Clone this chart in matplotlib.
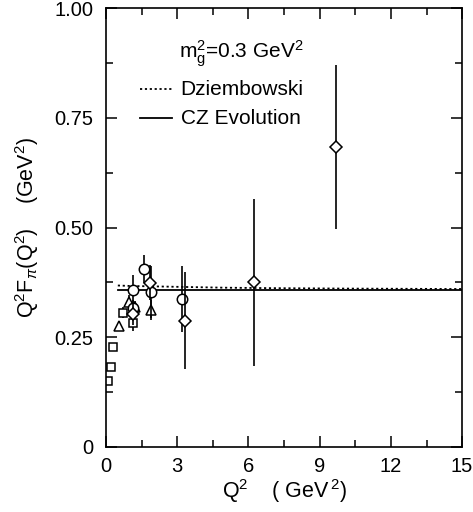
import matplotlib
matplotlib.use("Agg")
import matplotlib.pyplot as plt
from matplotlib.ticker import MultipleLocator

plt.rcParams['font.family'] = ['Liberation Sans', 'DejaVu Sans']
plt.rcParams['mathtext.fontset'] = 'custom'
plt.rcParams['mathtext.rm'] = 'Liberation Sans'
plt.rcParams['mathtext.it'] = 'Liberation Sans:italic'
plt.rcParams['mathtext.sf'] = 'Liberation Sans'

# data points (Q^2, Q^2 F_pi, error)
sq_x = [0.08, 0.20, 0.28, 0.70, 1.12]
sq_y = [0.150, 0.183, 0.228, 0.306, 0.283]
sq_e = [0.008, 0.008, 0.010, 0.012, 0.018]

tri_x = [0.55, 0.98, 1.24, 1.90]
tri_y = [0.276, 0.331, 0.318, 0.312]
tri_e = [0.010, 0.015, 0.015, 0.022]

cir_x = [1.12, 1.12, 1.60, 1.88, 3.22]
cir_y = [0.357, 0.316, 0.405, 0.353, 0.337]
cir_e = [0.035, 0.020, 0.032, 0.060, 0.075]

dia_x = [1.12, 1.85, 3.32, 6.24, 9.69]
dia_y = [0.304, 0.374, 0.288, 0.375, 0.684]
dia_e = [0.025, 0.040, 0.110, 0.190, 0.187]

# theory curves
th_x = [0.5, 1.0, 2.0, 3.0, 5.0, 7.0, 10.0, 15.0]
dz_y = [0.368, 0.367, 0.366, 0.365, 0.363, 0.362, 0.361, 0.360]
cz_y = [0.358, 0.358, 0.358, 0.358, 0.358, 0.358, 0.358, 0.358]

fig = plt.figure(figsize=(4.73, 5.12), dpi=100)
ax = fig.add_axes([0.224, 0.127, 0.753, 0.857])

ax.plot(th_x, dz_y, color='black', linestyle=(0, (1.2, 1.5)), linewidth=1.3)
ax.plot(th_x, cz_y, color='black', linestyle='-', linewidth=1.3)

mk = dict(fmt='none', ecolor='black', elinewidth=1.2, capsize=0)
for xs, ys, es, m, ms in [(sq_x, sq_y, sq_e, 's', 6),
                          (tri_x, tri_y, tri_e, '^', 7),
                          (cir_x, cir_y, cir_e, 'o', 7.5),
                          (dia_x, dia_y, dia_e, 'D', 6)]:
    ax.errorbar(xs, ys, yerr=es, **mk)
    ax.plot(xs, ys, linestyle='none', marker=m, markersize=ms,
            markerfacecolor='white', markeredgecolor='black', markeredgewidth=1.1)

ax.set_xlim(0, 15)
ax.set_ylim(0, 1.0)
ax.xaxis.set_major_locator(MultipleLocator(3))
ax.xaxis.set_minor_locator(MultipleLocator(1.5))
ax.yaxis.set_major_locator(MultipleLocator(0.25))
ax.yaxis.set_minor_locator(MultipleLocator(0.125))
ax.set_yticks([0, 0.25, 0.5, 0.75, 1.0])
ax.set_yticklabels(['0', '0.25', '0.50', '0.75', '1.00'])
ax.tick_params(which='both', direction='in', top=True, right=True, labelsize=14.5, width=1.1)
ax.tick_params(which='major', length=8)
ax.tick_params(axis='y', which='major', pad=9)
ax.tick_params(axis='x', which='major', pad=7)
ax.tick_params(which='minor', length=5)
for s in ax.spines.values():
    s.set_linewidth(1.2)

ax.set_xlabel(r'Q$^2$    ( GeV$^{\,2}$)', fontsize=15.5, labelpad=1)
ax.set_ylabel(r'Q$^2$F$_\pi$(Q$^2$)    (GeV$^2$)', fontsize=15.5, labelpad=10)

ax.text(0.38, 0.897, r'm$_\mathrm{g}^2$=0.3 GeV$^2$', transform=ax.transAxes,
        fontsize=15, ha='center', va='center')
ax.plot([0.095, 0.185], [0.815, 0.815], transform=ax.transAxes, color='black',
        linestyle=(0, (1.2, 1.5)), linewidth=1.3)
ax.text(0.21, 0.815, 'Dziembowski', transform=ax.transAxes, fontsize=15, va='center')
ax.plot([0.095, 0.185], [0.749, 0.749], transform=ax.transAxes, color='black',
        linestyle='-', linewidth=1.3)
ax.text(0.21, 0.749, 'CZ Evolution', transform=ax.transAxes, fontsize=15, va='center')

fig.savefig('out.png', dpi=100)
